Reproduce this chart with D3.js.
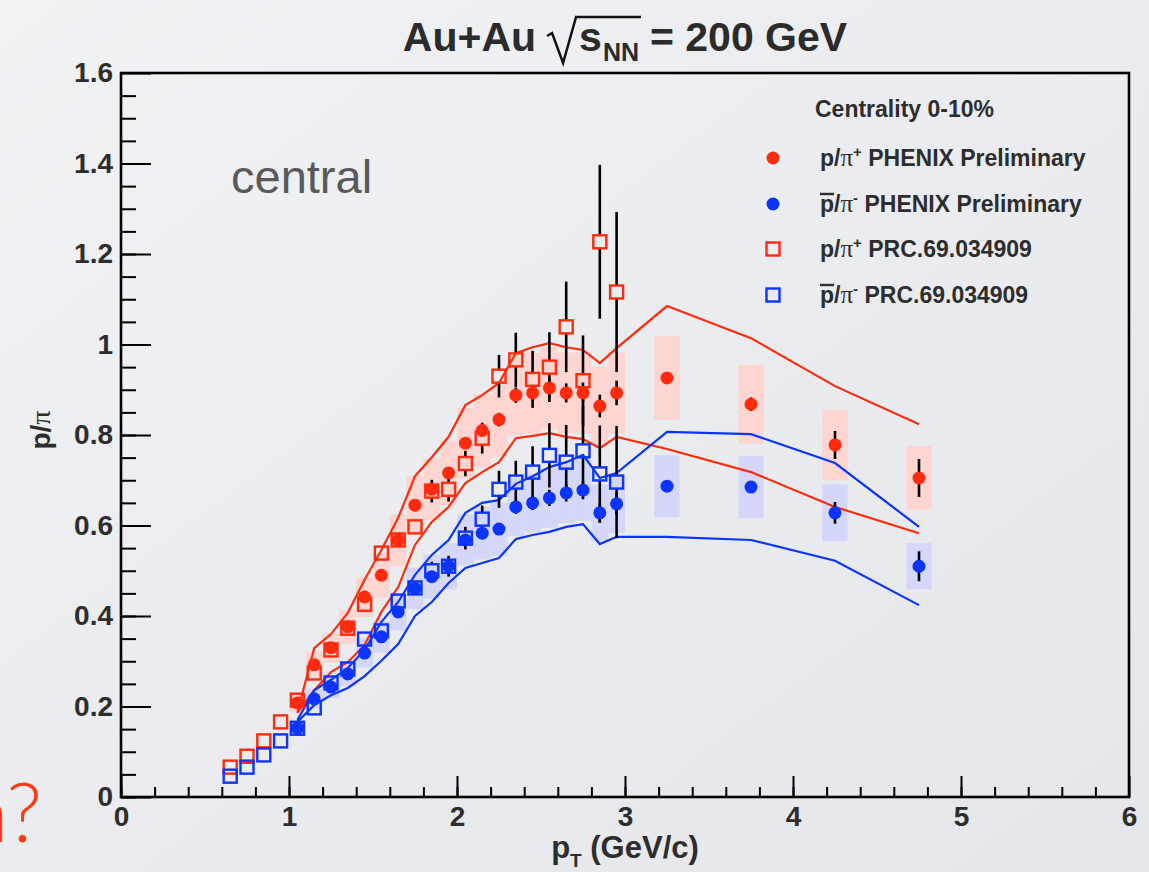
<!DOCTYPE html>
<html>
<head>
<meta charset="utf-8">
<script src="https://cdn.jsdelivr.net/npm/d3@7"></script>
<style>
html, body { margin: 0; padding: 0; }
body { width: 1149px; height: 872px; overflow: hidden; background: #eceef1; }
</style>
</head>
<body>
<script>
// PHENIX preliminary points (p/pi+, pbar/pi-), centrality 0-10%
var ptPhenix = [1.05, 1.15, 1.25, 1.35, 1.45, 1.55, 1.65, 1.75, 1.85, 1.95, 2.05, 2.15,
                2.25, 2.35, 2.45, 2.55, 2.65, 2.75, 2.85, 2.95, 3.25, 3.75, 4.25, 4.75];
var phxPPi = [0.208, 0.292, 0.33, 0.376, 0.442, 0.49, 0.568, 0.645, 0.68, 0.716, 0.782, 0.81,
              0.834, 0.888, 0.893, 0.904, 0.893, 0.893, 0.864, 0.893, 0.926, 0.868, 0.778, 0.705];
var phxPPiErr = [0.004, 0.005, 0.005, 0.006, 0.006, 0.007, 0.008, 0.009, 0.01, 0.011, 0.012, 0.013,
                 0.015, 0.017, 0.018, 0.02, 0.021, 0.023, 0.025, 0.027, 0.012, 0.015, 0.031, 0.042];
var phxPbarPi = [0.152, 0.217, 0.243, 0.272, 0.318, 0.354, 0.409, 0.461, 0.487, 0.51, 0.568, 0.583,
                 0.592, 0.641, 0.65, 0.661, 0.672, 0.678, 0.628, 0.648, 0.687, 0.685, 0.628, 0.51];
var phxPbarPiErr = [0.004, 0.004, 0.005, 0.005, 0.006, 0.006, 0.007, 0.008, 0.009, 0.01, 0.011, 0.012,
                    0.013, 0.015, 0.016, 0.018, 0.019, 0.02, 0.022, 0.024, 0.01, 0.012, 0.024, 0.033];

// PRC.69.034909 points
var ptPrc = [0.65, 0.75, 0.85, 0.95, 1.05, 1.15, 1.25, 1.35, 1.45, 1.55, 1.65, 1.75,
             1.85, 1.95, 2.05, 2.15, 2.25, 2.35, 2.45, 2.55, 2.65, 2.75, 2.85, 2.95];
var prcPPi = [0.066, 0.09, 0.124, 0.166, 0.214, 0.274, 0.325, 0.373, 0.426, 0.539, 0.568, 0.597,
              0.676, 0.68, 0.737, 0.793, 0.93, 0.966, 0.923, 0.95, 1.039, 0.92, 1.227, 1.116];
var prcPPiErr = [0.003, 0.003, 0.004, 0.005, 0.006, 0.007, 0.008, 0.009, 0.01, 0.012, 0.014, 0.016,
                 0.025, 0.027, 0.028, 0.034, 0.047, 0.06, 0.063, 0.077, 0.1, 0.1, 0.17, 0.177];
var prcPbarPi = [0.046, 0.066, 0.093, 0.124, 0.152, 0.197, 0.252, 0.283, 0.349, 0.367, 0.433, 0.462,
                 0.5, 0.51, 0.572, 0.614, 0.68, 0.696, 0.718, 0.755, 0.74, 0.765, 0.714, 0.696];
var prcPbarPiErr = [0.003, 0.003, 0.004, 0.004, 0.005, 0.006, 0.007, 0.008, 0.009, 0.01, 0.012, 0.014,
                    0.02, 0.023, 0.025, 0.03, 0.041, 0.047, 0.057, 0.071, 0.082, 0.1, 0.107, 0.124];

// model bands (upper / lower curves), same pT as ptPhenix
var bandRedHi = [0.186, 0.329, 0.36, 0.407, 0.48, 0.546, 0.617, 0.709, 0.751, 0.796, 0.866, 0.888,
                 0.915, 0.981, 0.994, 1.003, 0.994, 0.988, 0.959, 0.992, 1.085, 1.014, 0.908, 0.824];
var bandRedLo = [0.186, 0.236, 0.276, 0.298, 0.336, 0.409, 0.464, 0.557, 0.608, 0.641, 0.694, 0.718,
                 0.74, 0.793, 0.798, 0.804, 0.796, 0.791, 0.771, 0.796, 0.769, 0.718, 0.641, 0.583];
var bandBlueHi = [0.17, 0.236, 0.259, 0.285, 0.325, 0.387, 0.431, 0.491, 0.535, 0.568, 0.628, 0.65,
                  0.656, 0.692, 0.709, 0.729, 0.74, 0.756, 0.705, 0.716, 0.807, 0.802, 0.738, 0.597];
var bandBlueLo = [0.166, 0.203, 0.225, 0.241, 0.267, 0.301, 0.338, 0.4, 0.431, 0.473, 0.506, 0.517,
                  0.528, 0.57, 0.579, 0.586, 0.597, 0.603, 0.559, 0.575, 0.575, 0.568, 0.522, 0.424];

var sysFrac = 0.10;   // systematic boxes, fraction of value

var xMajorTicks = [0, 1, 2, 3, 4, 5, 6];
var xTickLabels = ["0", "1", "2", "3", "4", "5", "6"];
var yMajorTicks = [0, 0.2, 0.4, 0.6, 0.8, 1.0, 1.2, 1.4, 1.6];
var yTickLabels = ["0", "0.2", "0.4", "0.6", "0.8", "1", "1.2", "1.4", "1.6"];

var RED = "#ff2b0c";
var BLUE = "#0b34ff";
var RED_BOX = "#ffd5d1";
var BLUE_BOX = "#d4d7fa";
var SANS = "'Liberation Sans', Arial, Helvetica, sans-serif";
var SERIF = "'Liberation Serif', 'Times New Roman', serif";

var width = 1149, height = 872;
var svg = d3.select("body").append("svg")
    .attr("width", width)
    .attr("height", height);

var defs = svg.append("defs");
var grad = defs.append("linearGradient").attr("id", "bg")
    .attr("x1", "0").attr("y1", "0").attr("x2", "1").attr("y2", "1");
grad.append("stop").attr("offset", "0").attr("stop-color", "#f1f2f4");
grad.append("stop").attr("offset", "1").attr("stop-color", "#e4e6ea");
svg.append("rect").attr("width", width).attr("height", height).attr("fill", "url(#bg)");

var xScale = d3.scaleLinear().domain([0, 6]).range([121, 1129]);
var yScale = d3.scaleLinear().domain([0, 1.6]).range([797, 73]);

// systematic boxes
function drawBoxes(vals, color) {
    svg.append("g").selectAll("rect")
        .data(ptPhenix.map(function(p, i) { return { x: p, y: vals[i] }; }))
        .enter().append("rect")
        .attr("x", function(d) { return xScale(d.x - (d.x > 3 ? 0.075 : 0.05)); })
        .attr("width", function(d) { return xScale(d.x > 3 ? 0.15 : 0.1) - xScale(0); })
        .attr("y", function(d) { return yScale(d.y * (1 + sysFrac)); })
        .attr("height", function(d) { return yScale(d.y * (1 - sysFrac)) - yScale(d.y * (1 + sysFrac)); })
        .attr("fill", color);
}
drawBoxes(phxPPi, RED_BOX);
drawBoxes(phxPbarPi, BLUE_BOX);

// band curves
var line = d3.line()
    .x(function(d) { return xScale(d.x); })
    .y(function(d) { return yScale(d.y); });

[[bandRedHi, RED], [bandRedLo, RED], [bandBlueHi, BLUE], [bandBlueLo, BLUE]].forEach(function(b) {
    svg.append("path")
        .datum(ptPhenix.map(function(p, i) { return { x: p, y: b[0][i] }; }))
        .attr("d", line)
        .attr("fill", "none")
        .attr("stroke", b[1])
        .attr("stroke-width", 2.2);
});

// error bars
function drawErrors(pts, vals, errs, gap) {
    var g = svg.append("g").attr("stroke", "#000").attr("stroke-width", 2.6);
    pts.forEach(function(p, i) {
        var cx = xScale(p), cy = yScale(vals[i]);
        var top = yScale(vals[i] + errs[i]), bot = yScale(vals[i] - errs[i]);
        if (gap > 0) {
            if (cy - gap > top) g.append("line").attr("x1", cx).attr("x2", cx).attr("y1", top).attr("y2", cy - gap);
            if (bot > cy + gap) g.append("line").attr("x1", cx).attr("x2", cx).attr("y1", cy + gap).attr("y2", bot);
        } else {
            g.append("line").attr("x1", cx).attr("x2", cx).attr("y1", top).attr("y2", bot);
        }
    });
}
drawErrors(ptPhenix, phxPPi, phxPPiErr, 0);
drawErrors(ptPhenix, phxPbarPi, phxPbarPiErr, 0);
drawErrors(ptPrc, prcPPi, prcPPiErr, 7);
drawErrors(ptPrc, prcPbarPi, prcPbarPiErr, 7);

// markers
function drawCircles(vals, color) {
    svg.append("g").selectAll("circle")
        .data(ptPhenix.map(function(p, i) { return { x: p, y: vals[i] }; }))
        .enter().append("circle")
        .attr("cx", function(d) { return xScale(d.x); })
        .attr("cy", function(d) { return yScale(d.y); })
        .attr("r", 6.5)
        .attr("fill", color);
}
function drawSquares(vals, color) {
    svg.append("g").selectAll("rect")
        .data(ptPrc.map(function(p, i) { return { x: p, y: vals[i] }; }))
        .enter().append("rect")
        .attr("x", function(d) { return xScale(d.x) - 6.5; })
        .attr("y", function(d) { return yScale(d.y) - 6.5; })
        .attr("width", 13).attr("height", 13)
        .attr("fill", "none")
        .attr("stroke", color)
        .attr("stroke-width", 2.4);
}
drawCircles(phxPPi, RED);
drawCircles(phxPbarPi, BLUE);
drawSquares(prcPPi, RED);
drawSquares(prcPbarPi, BLUE);

// axes (ticks pointing inward, ROOT style)
function styleAxis(g) {
    g.select(".domain").remove();
    g.selectAll(".tick line").attr("stroke", "#000").attr("stroke-width", 2);
    g.selectAll(".tick text")
        .style("font", "bold 28px " + SANS)
        .attr("fill", "#2d2d2d");
}
svg.append("g").attr("transform", "translate(0,797)")
    .call(d3.axisBottom(xScale).tickValues(d3.range(0, 30).map(function(i) { return i * 0.2; }))
        .tickSize(-10).tickFormat(""))
    .call(styleAxis);
svg.append("g").attr("transform", "translate(0,797)")
    .call(d3.axisBottom(xScale).tickValues(xMajorTicks).tickSize(-21).tickPadding(9)
        .tickFormat(function(d, i) { return xTickLabels[i]; }))
    .call(styleAxis);
svg.append("g").attr("transform", "translate(121,0)")
    .call(d3.axisLeft(yScale).tickValues(d3.range(0, 32).map(function(i) { return i * 0.05; }))
        .tickSize(-15).tickFormat(""))
    .call(styleAxis);
svg.append("g").attr("transform", "translate(121,0)")
    .call(d3.axisLeft(yScale).tickValues(yMajorTicks).tickSize(-30).tickPadding(8)
        .tickFormat(function(d, i) { return yTickLabels[i]; }))
    .call(styleAxis);

// frame
svg.append("rect")
    .attr("x", xScale(0)).attr("y", yScale(1.6))
    .attr("width", xScale(6) - xScale(0)).attr("height", yScale(0) - yScale(1.6))
    .attr("fill", "none").attr("stroke", "#000").attr("stroke-width", 2.6);

// axis titles
var xt = svg.append("text").attr("x", 625).attr("y", 858).attr("text-anchor", "middle")
    .style("font", "bold 31px " + SANS).attr("fill", "#2d2d2d");
xt.append("tspan").text("p");
xt.append("tspan").attr("dy", 9).style("font-size", "19px").text("T");
xt.append("tspan").attr("dy", -9).text(" (GeV/c)");

var yt = svg.append("text").attr("transform", "translate(50,430) rotate(-90)")
    .attr("text-anchor", "middle").style("font", "bold 28px " + SANS).attr("fill", "#2d2d2d");
yt.append("tspan").text("p/");
yt.append("tspan").style("font-family", SERIF).style("font-weight", "normal").text("π");

// title: Au+Au sqrt(s_NN) = 200 GeV
var tb = 51;
var tg = svg.append("g").attr("fill", "#2b2b2b");
var tA = tg.append("text").attr("y", tb).style("font", "bold 41px " + SANS).text("Au+Au");
var tS = tg.append("text").attr("y", tb).style("font", "bold 41px " + SANS).text("s");
var tN = tg.append("text").attr("y", tb + 10).style("font", "bold 25px " + SANS).text("NN");
var tE = tg.append("text").attr("y", tb).style("font", "bold 41px " + SANS).text("= 200 GeV");
var wA = tA.node().getComputedTextLength(), wS = tS.node().getComputedTextLength(),
    wN = tN.node().getComputedTextLength(), wE = tE.node().getComputedTextLength();
var radW = 32;
var total = wA + 11 + radW + wS + 1 + wN + 11 + wE;
var tx = 625 - total / 2;
tA.attr("x", tx);
var rx = tx + wA + 11;
tS.attr("x", rx + radW);
tN.attr("x", rx + radW + wS + 1);
tE.attr("x", rx + radW + wS + 1 + wN + 11);
tg.append("path")
    .attr("d", "M" + rx + "," + (tb - 15) + " L" + (rx + 5) + "," + (tb - 18) +
        " L" + (rx + 16) + "," + (tb + 12) + " L" + (rx + 29) + "," + (tb - 34) +
        " L" + (rx + radW + wS + wN + 3) + "," + (tb - 34))
    .attr("fill", "none").attr("stroke", "#111").attr("stroke-width", 2.5)
    .attr("stroke-linejoin", "miter");

// "central" label
svg.append("text").attr("x", 231).attr("y", 193)
    .style("font", "47px " + SANS).attr("fill", "#595959").text("central");

// legend
var lg = svg.append("g").attr("fill", "#2d2d2d");
lg.append("text").attr("x", 815).attr("y", 117)
    .style("font", "bold 23px " + SANS).text("Centrality 0-10%");

var legendRows = [
    { y: 158, marker: "circle", color: RED, bar: false, sup: "+", rest: " PHENIX Preliminary" },
    { y: 204, marker: "circle", color: BLUE, bar: true, sup: "-", rest: " PHENIX Preliminary" },
    { y: 249, marker: "square", color: RED, bar: false, sup: "+", rest: " PRC.69.034909" },
    { y: 295, marker: "square", color: BLUE, bar: true, sup: "-", rest: " PRC.69.034909" }
];
legendRows.forEach(function(r) {
    if (r.marker === "circle") {
        lg.append("circle").attr("cx", 773).attr("cy", r.y).attr("r", 6.5).attr("fill", r.color);
    } else {
        lg.append("rect").attr("x", 766.5).attr("y", r.y - 6.5).attr("width", 13).attr("height", 13)
            .attr("fill", "none").attr("stroke", r.color).attr("stroke-width", 2.4);
    }
    var t = lg.append("text").attr("x", 820).attr("y", r.y + 8)
        .style("font", "bold 23px " + SANS);
    var tp = t.append("tspan").text("p");
    t.append("tspan").text("/");
    t.append("tspan").style("font-family", SERIF).style("font-weight", "normal").style("font-size", "25px").text("π");
    t.append("tspan").attr("dy", -9).style("font-size", "15px").text(r.sup);
    t.append("tspan").attr("dy", 9).text(r.rest);
    if (r.bar) {
        var pw = tp.node().getComputedTextLength();
        lg.append("line").attr("x1", 820).attr("x2", 820 + pw)
            .attr("y1", r.y - 10).attr("y2", r.y - 10)
            .attr("stroke", "#2d2d2d").attr("stroke-width", 2.4);
    }
});

// cut-off slide text at lower left
svg.append("text").attr("x", 42).attr("y", 842).attr("text-anchor", "end")
    .style("font", "300 82px Lato, 'Open Sans', " + SANS).attr("fill", "#ff3a14").text("n?");
</script>
</body>
</html>
